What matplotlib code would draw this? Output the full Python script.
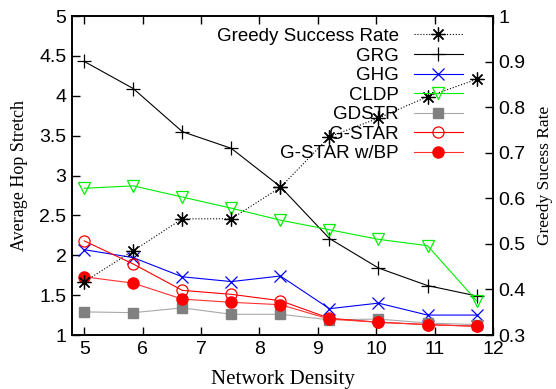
import matplotlib
matplotlib.use('Agg')
import matplotlib.pyplot as plt

density = [5.0, 5.84, 6.68, 7.52, 8.36, 9.2, 10.04, 10.88, 11.72]

grg = [4.43, 4.09, 3.55, 3.34, 2.86, 2.21, 1.84, 1.62, 1.49]
ghg = [2.07, 1.97, 1.73, 1.67, 1.74, 1.33, 1.40, 1.25, 1.25]
cldp = [2.84, 2.87, 2.73, 2.59, 2.44, 2.32, 2.20, 2.12, 1.43]
gdstr = [1.29, 1.28, 1.34, 1.26, 1.26, 1.19, 1.20, 1.15, 1.13]
gstar = [2.18, 1.89, 1.56, 1.51, 1.43, 1.21, 1.16, 1.13, 1.11]
gstar_bp = [1.73, 1.65, 1.45, 1.41, 1.38, 1.20, 1.16, 1.13, 1.11]
greedy_rate = [0.417, 0.485, 0.555, 0.555, 0.624, 0.735, 0.776, 0.823, 0.861]

sans = 'Liberation Sans'
serif = 'Liberation Serif'

fig = plt.figure(figsize=(5.56, 3.89), dpi=100)
ax = fig.add_axes([0.1295, 0.1388, 0.757, 0.82])
ax2 = ax.twinx()

lw = 0.8
ax.plot(density, grg, color='black', lw=lw, marker='+', ms=10, mew=0.9, label='GRG')
ax.plot(density, ghg, color='blue', lw=lw, marker='x', ms=8, mew=0.9, label='GHG')
ax.plot(density, cldp, color='#00ee00', lw=lw, marker='v', ms=8, mfc='none', mew=0.9, label='CLDP')
ax.plot(density, gdstr, color='#a8a8a8', lw=lw, marker='s', ms=7, mfc='#808080', mec='#808080', label='GDSTR')
ax.plot(density, gstar, color='red', lw=lw, marker='o', ms=8, mfc='none', mew=0.9, label='G-STAR')
ax.plot(density, gstar_bp, color='#ff3030', lw=lw, marker='o', ms=8, mfc='red', mec='red', label='G-STAR w/BP')

ax2.plot(density, greedy_rate, color='black', lw=lw, ls=':', marker=(8, 2, 0), ms=10, mew=0.9,
         label='Greedy Success Rate')

ax.set_xlim(4.79, 12)
ax.set_ylim(1, 5)
ax2.set_ylim(0.3, 1)

ax.set_xticks(range(5, 13))
ax.set_yticks([1, 1.5, 2, 2.5, 3, 3.5, 4, 4.5, 5])
ax.set_yticklabels(['1', '1.5', '2', '2.5', '3', '3.5', '4', '4.5', '5'])
ax2.set_yticks([0.3, 0.4, 0.5, 0.6, 0.7, 0.8, 0.9, 1.0])
ax2.set_yticklabels(['0.3', '0.4', '0.5', '0.6', '0.7', '0.8', '0.9', '1'])

ax.tick_params(axis='x', direction='in', top=True, length=6, width=1, labelsize=14, pad=4)
ax.tick_params(axis='y', direction='in', right=False, length=6, width=1, labelsize=14, pad=4)
ax2.tick_params(axis='y', direction='in', length=6, width=1, labelsize=14, pad=4)
for a in (ax, ax2):
    for lab in a.get_xticklabels() + a.get_yticklabels():
        lab.set_family(sans)
    for sp in a.spines.values():
        sp.set_linewidth(1.2)

ax.set_xlabel('Network Density', family=serif, fontsize=15, labelpad=9)
ax.set_ylabel('Average Hop Stretch', family=serif, fontsize=13, labelpad=8)
ax2.set_ylabel('Greedy Sucess Rate', family=serif, fontsize=12.5, labelpad=8)

h1, l1 = ax2.get_legend_handles_labels()
h2, l2 = ax.get_legend_handles_labels()
leg = ax2.legend(h1 + h2, l1 + l2, loc='upper right', bbox_to_anchor=(0.955, 0.998),
                 frameon=False, markerfirst=False, handlelength=2.6, handletextpad=0.8,
                 labelspacing=0.13, prop={'family': sans, 'size': 13.5}, borderaxespad=0.2)

fig.savefig('out.png', dpi=100)
